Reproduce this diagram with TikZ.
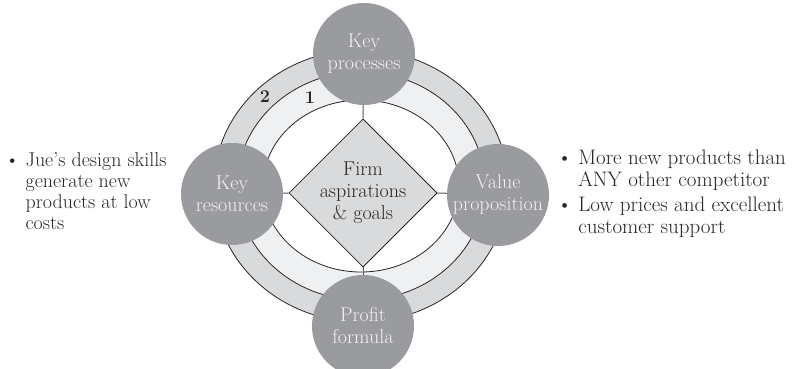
\documentclass[tikz,border=0pt]{standalone}
\usetikzlibrary{shapes.geometric}

\definecolor{blockgray}{HTML}{9A9B9F}
\definecolor{ringdark}{HTML}{D9DADC}
\definecolor{ringlight}{HTML}{EFF0F2}
\definecolor{inkgray}{HTML}{262626}

\tikzset{
  block/.style={circle, fill=blockgray, minimum size=102pt, inner sep=0pt,
    text=white!95!black, align=center, font=\fontsize{20}{22}\selectfont},
  goal/.style={diamond, draw=inkgray, line width=0.8pt, fill=ringdark,
    minimum width=132pt, minimum height=130pt, inner sep=0pt,
    align=center, text=inkgray, font=\fontsize{20}{22}\selectfont},
  ring/.style={draw=inkgray, line width=0.8pt},
  link/.style={draw=black!65, line width=1pt},
  num/.style={font=\bfseries\fontsize{18}{18}\selectfont, text=inkgray},
  note/.style={anchor=base west, inner sep=0pt, text=inkgray},
}

\begin{document}
\begin{tikzpicture}[x=1pt,y=1pt]
  \useasboundingbox (0,0) rectangle (792,369);

  % the two rings
  \coordinate (c) at (361,183);
  \filldraw[ring, fill=ringdark] (c) ellipse [x radius=147, y radius=136];
  \filldraw[ring, fill=ringlight] (c) ellipse [x radius=124, y radius=114];
  \filldraw[ring, fill=white] (c) ellipse [x radius=98, y radius=86];
  \node[num] (n2) at (265,272) {2};
  \node[num] (n1) at (310,271) {1};

  % centre and the four blocks
  \node[goal] (goal) at (363,176) {Firm\\aspirations\\\& goals};
  \node[block] (proc) at (364,315) {Key\\processes};
  \node[block] (res) at (232,175) {Key\\resources};
  \node[block] (val) at (498,174) {Value\\proposition};
  \node[block] (prof) at (363,43) {Profit\\formula};

  \draw[link] (goal.north) -- (proc);
  \draw[link] (goal.west) -- (res);
  \draw[link] (goal.east) -- (val);
  \draw[link] (goal.south) -- (prof);

  % notes on either side
  \node[note, font=\fontsize{20}{21}\selectfont] (resnote) at (5,202) {%
    \begin{tabular}[t]{@{}l@{\hspace{6pt}}l@{}}
      \textbullet & Jue's design skills\\
      & generate new\\
      & products at low\\
      & costs
    \end{tabular}};
  \node[note, font=\fontsize{21}{22}\selectfont] (valnote) at (557,204) {%
    \begin{tabular}[t]{@{}l@{\hspace{6pt}}l@{}}
      \textbullet & More new products than\\
      & ANY other competitor\\[3pt]
      \textbullet & Low prices and excellent\\
      & customer support
    \end{tabular}};
\end{tikzpicture}
\end{document}
